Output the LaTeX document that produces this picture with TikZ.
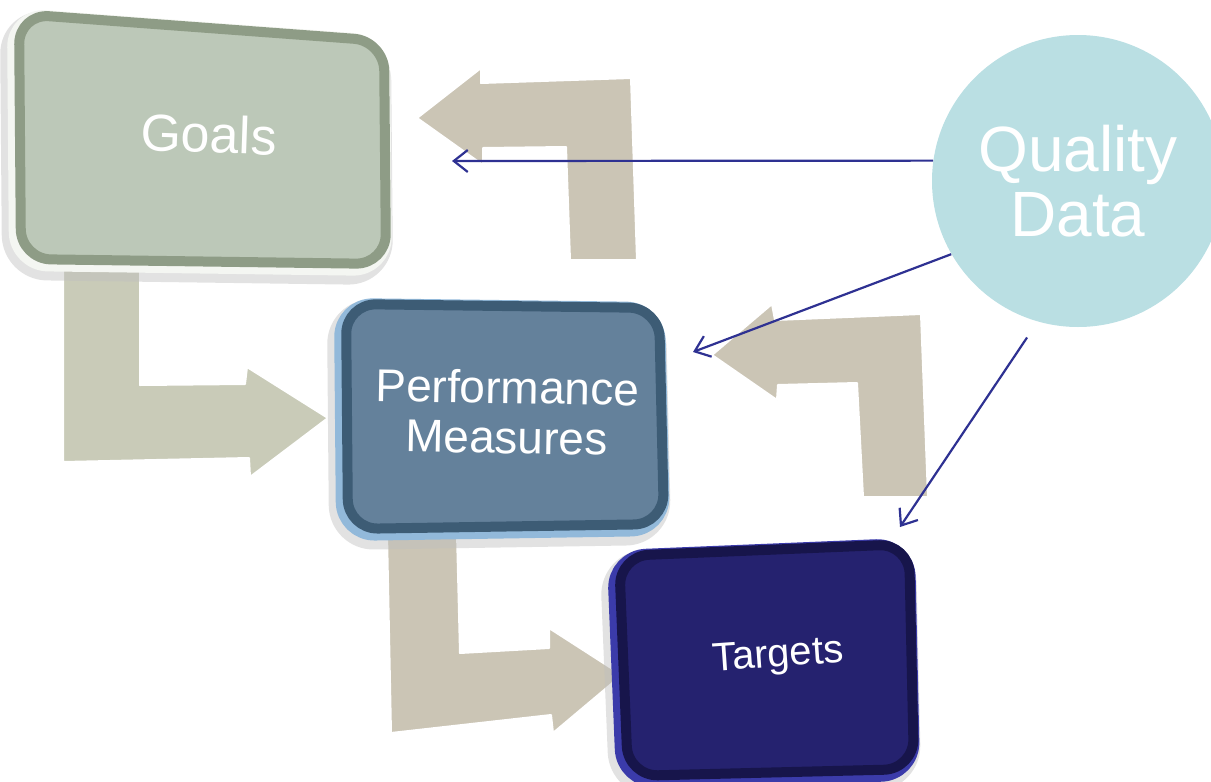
\documentclass[tikz,border=0pt]{standalone}
\usepackage{fontspec}
\setmainfont{Liberation Sans}
\usetikzlibrary{arrows.meta}

\definecolor{goalface}{HTML}{BCC8B8}
\definecolor{goalring}{HTML}{8E9C86}
\definecolor{goalrim}{HTML}{F4F6F2}
\definecolor{pmface}{HTML}{64819B}
\definecolor{pmring}{HTML}{3D5C75}
\definecolor{pmrim}{HTML}{92B9DA}
\definecolor{tgface}{HTML}{25226F}
\definecolor{tgring}{HTML}{17154B}
\definecolor{tgrim}{HTML}{3B3BAA}
\definecolor{beige}{HTML}{CBC5B5}
\definecolor{sage}{HTML}{C9CBB8}
\definecolor{qdfill}{HTML}{BADFE3}
\definecolor{linkblue}{HTML}{2E3192}

\begin{document}
\begin{tikzpicture}[x=0.5pt, y=-0.5pt, line join=round,
    bigarrow/.style = {fill=#1, draw=white, line width=1pt},
    shade/.style = {draw=black!25, opacity=.45, line width=13pt, rounded corners=16pt},
    rim/.style = {draw=#1, line width=9pt, rounded corners=15pt},
    face/.style = {draw=#1, line width=5pt, rounded corners=15pt},
    txt/.style = {text=white, align=center, inner sep=0pt},
    link/.style = {draw=linkblue, line width=1.1pt, -{Straight Barb[length=7pt,width=11pt]}}]
    \useasboundingbox (0,0) rectangle (1211,782);

    % bent arrows
    \draw[bigarrow=sage] (63,260) -- (140,260) -- (140,385) -- (245,384) -- (247,367)
        -- (328,418) -- (250,477) -- (249,458) -- (63,462) -- cycle;
    \draw[bigarrow=beige] (637,260) -- (631,78) -- (481,83) -- (481,68) -- (417,118)
        -- (483,165) -- (483,148) -- (566,147) -- (570,260) -- cycle;
    \draw[bigarrow=beige] (921,314) -- (928,497) -- (863,497) -- (857,383) -- (778,385)
        -- (777,400) -- (712,355) -- (772,304) -- (775,320) -- cycle;
    \draw[bigarrow=beige] (387,533) -- (457,533) -- (460,653) -- (549,648) -- (549,628)
        -- (622,675) -- (553,733) -- (551,715) -- (391,733) -- cycle;

    % boxes
    \path (19,14) coordinate (g1) (384,41) coordinate (g2)
          (386,264) coordinate (g3) (21,259) coordinate (g4);
    \path (346,304) coordinate (p1) (659,308) coordinate (p2)
          (664,524) coordinate (p3) (348,529) coordinate (p4);
    \path (619,556) coordinate (t1) (909,544) coordinate (t2)
          (914,769) coordinate (t3) (628,776) coordinate (t4);

    \begin{scope}[transform canvas={shift={(-3pt,-4pt)}}]
        \draw[shade] (g1) -- (g2) -- (g3) -- (g4) -- cycle;
        \draw[shade] (p1) -- (p2) -- (p3) -- (p4) -- cycle;
        \draw[shade] (t1) -- (t2) -- (t3) -- (t4) -- cycle;
    \end{scope}
    \begin{scope}[transform canvas={shift={(-1.5pt,-1.5pt)}}]
        \draw[rim=goalrim] (g1) -- (g2) -- (g3) -- (g4) -- cycle;
        \draw[rim=pmrim] (p1) -- (p2) -- (p3) -- (p4) -- cycle;
        \draw[rim=tgrim] (t1) -- (t2) -- (t3) -- (t4) -- cycle;
    \end{scope}
    \draw[face=goalring, fill=goalface] (g1) -- (g2) -- (g3) -- (g4) -- cycle;
    \draw[face=pmring, fill=pmface] (p1) -- (p2) -- (p3) -- (p4) -- cycle;
    \draw[face=tgring, fill=tgface] (t1) -- (t2) -- (t3) -- (t4) -- cycle;

    \node[txt, rotate=-2, font=\fontsize{26}{30}\selectfont] (goals) at (209,134) {Goals};
    \node[txt, rotate=-1, font=\fontsize{23}{25}\selectfont] (pm) at (507,412) {Performance\\Measures};
    \node[txt, rotate=4, font=\fontsize{20}{22}\selectfont] (tg) at (778,657) {Targets};
    \node[txt, circle, fill=qdfill, minimum size=146pt, font=\fontsize{32}{32.5}\selectfont] (qd) at (1078,181) {Quality\\Data};

    % links from the data circle
    \coordinate (goalin) at (452,161);
    \coordinate (pmin) at (693,352);
    \coordinate (tgin) at (900,527);
    \draw[link] (qd.172) -- (goalin);
    \draw[link] (qd.210) -- (pmin);
    \draw[link, shorten <=9.5pt] (qd.254) -- (tgin);
\end{tikzpicture}
\end{document}
